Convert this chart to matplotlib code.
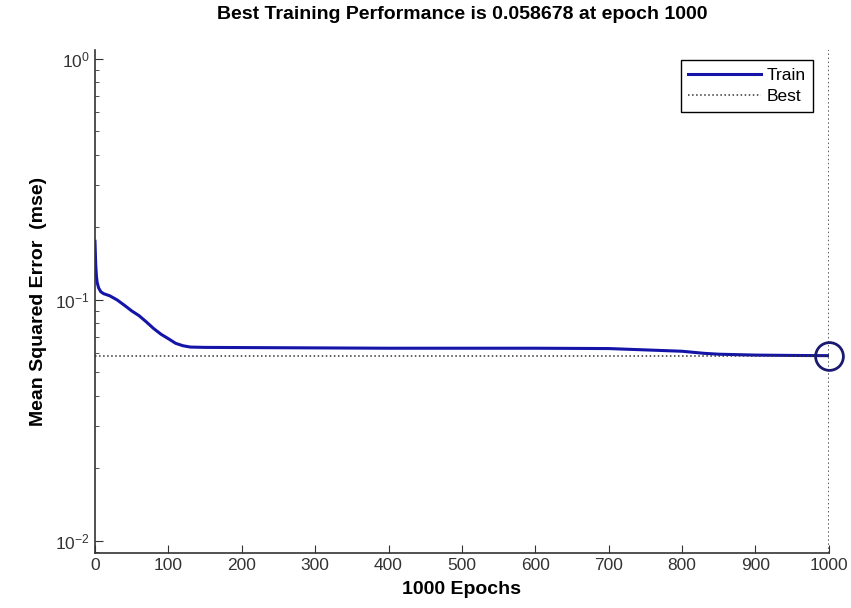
import matplotlib
matplotlib.use("Agg")
import matplotlib.pyplot as plt
import numpy as np

# training record
epochs = [0, 1, 2, 3, 5, 8, 12, 20, 30, 40, 50, 60, 70, 80, 90, 100, 110, 120,
          130, 150, 200, 300, 400, 500, 600, 700, 750, 800, 830, 850, 900, 950, 1000]
train_mse = [0.175, 0.14, 0.125, 0.118, 0.112, 0.108, 0.106, 0.104, 0.100, 0.095,
             0.090, 0.086, 0.081, 0.076, 0.072, 0.069, 0.066, 0.0645, 0.0637, 0.0635,
             0.0634, 0.0632, 0.0630, 0.0630, 0.0630, 0.0628, 0.0620, 0.0612, 0.0600,
             0.0595, 0.0590, 0.0588, 0.058678]
best_epoch = 1000
best_perf = 0.058678
x_ticks = [0, 100, 200, 300, 400, 500, 600, 700, 800, 900, 1000]

plt.rcParams['font.family'] = ['Liberation Sans', 'DejaVu Sans']

fig = plt.figure(figsize=(8.51, 6.08), dpi=100)
ax = fig.add_axes([0.1116, 0.0905, 0.8624, 0.8275])

ax.semilogy(epochs, train_mse, color='#1414a8', lw=2.2, label='Train')
ax.axhline(best_perf, color='#333333', ls=':', lw=1.1, label='Best')
ax.axvline(best_epoch, color='#333333', ls=':', lw=1.1)
ax.plot([best_epoch], [best_perf], 'o', ms=20, mfc='none', mec='#1a1a70',
        mew=2, clip_on=False)

ax.set_xlim(0, 1000)
ax.set_ylim(10 ** -2.05, 10 ** 0.037)
ax.set_xticks(x_ticks)

for s in ['top', 'right']:
    ax.spines[s].set_visible(False)
for s in ['left', 'bottom']:
    ax.spines[s].set_color('#333333')
    ax.spines[s].set_linewidth(1.2)

ax.tick_params(which='both', direction='in', colors='#333333', labelsize=12.5,
               labelcolor='#333333')
ax.tick_params(which='major', length=6)
ax.tick_params(which='minor', length=3)

ax.set_title('Best Training Performance is %.6f at epoch %d' % (best_perf, best_epoch),
             fontsize=14, fontweight='bold', pad=22)
ax.set_xlabel('1000 Epochs', fontsize=14, fontweight='bold', labelpad=6)
ax.set_ylabel('Mean Squared Error  (mse)', fontsize=14, fontweight='bold', labelpad=6)

leg = ax.legend(loc='upper right', bbox_to_anchor=(0.986, 0.99), fontsize=12.5,
                fancybox=False, edgecolor='black', framealpha=1,
                handlelength=4.2, handletextpad=0.3, borderpad=0.45,
                labelspacing=0.35, borderaxespad=0.3)
leg.get_frame().set_linewidth(1.0)

fig.savefig('out.png', dpi=100)
